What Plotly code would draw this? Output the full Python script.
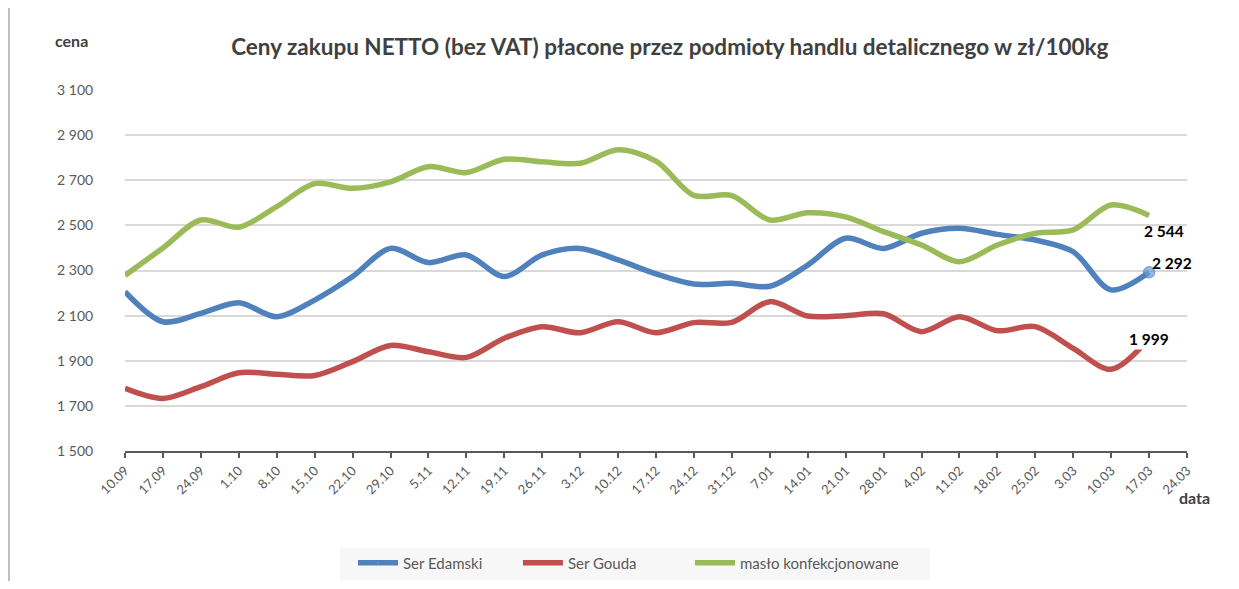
import plotly.graph_objects as go

categories = ["10.09", "17.09", "24.09", "1.10", "8.10", "15.10", "22.10", "29.10",
              "5.11", "12.11", "19.11", "26.11", "3.12", "10.12", "17.12", "24.12",
              "31.12", "7.01", "14.01", "21.01", "28.01", "4.02", "11.02", "18.02",
              "25.02", "3.03", "10.03", "17.03", "24.03"]

ser_edamski = [2206, 2073, 2110, 2157, 2095, 2169, 2273, 2398, 2335, 2369, 2273, 2369,
               2398, 2347, 2285, 2240, 2243, 2230, 2324, 2443, 2398, 2465, 2487, 2460,
               2435, 2383, 2214, 2292]
ser_gouda = [1778, 1733, 1785, 1847, 1840, 1835, 1896, 1968, 1940, 1915, 2000, 2051,
             2024, 2073, 2024, 2069, 2070, 2162, 2098, 2100, 2108, 2029, 2095, 2033,
             2051, 1955, 1862, 1999]
maslo = [2278, 2400, 2524, 2492, 2583, 2685, 2664, 2693, 2760, 2734, 2793, 2782,
         2775, 2835, 2785, 2633, 2632, 2524, 2556, 2538, 2472, 2413, 2339, 2413,
         2465, 2480, 2590, 2544]

y_ticks = [1500, 1700, 1900, 2100, 2300, 2500, 2700, 2900, 3100]
y_ticktext = ["1 500", "1 700", "1 900", "2 100", "2 300", "2 500", "2 700", "2 900", "3 100"]

FONT = "Lato, Carlito, Calibri, sans-serif"
GRAY = "#595959"

n = len(ser_edamski)
xs = categories[:n]
last = n - 1  # category index of the last data point

fig = go.Figure()
fig.add_trace(go.Scatter(
    x=xs, y=ser_edamski, name="Ser Edamski", mode="lines+markers", legend="legend",
    line=dict(color="#4F81BD", width=5.5, shape="spline", smoothing=0.9),
    marker=dict(size=[0] * (n - 1) + [11], color="#6E9BD6",
                line=dict(color="#4F81BD", width=[0] * (n - 1) + [1.5]))))
fig.add_trace(go.Scatter(
    x=xs, y=ser_gouda, name="Ser Gouda", mode="lines", legend="legend2",
    line=dict(color="#C0504D", width=5.5, shape="spline", smoothing=0.9)))
fig.add_trace(go.Scatter(
    x=xs, y=maslo, name="masło konfekcjonowane", mode="lines", legend="legend3",
    line=dict(color="#9BBB59", width=5.5, shape="spline", smoothing=0.9)))


def fmt(v):
    return f"{v:,}".replace(",", " ")


label_style = dict(font=dict(family=FONT, size=15.5, color="#000000"), showarrow=False)
fig.add_annotation(x=last, y=maslo[-1], text="<b>" + fmt(maslo[-1]) + "</b>",
                   xshift=15, yshift=-16, **label_style)
fig.add_annotation(x=last, y=ser_edamski[-1], text="<b>" + fmt(ser_edamski[-1]) + "</b>",
                   xshift=23, yshift=9, **label_style)
fig.add_annotation(x=last, y=ser_gouda[-1], text="<b>" + fmt(ser_gouda[-1]) + "</b>",
                   xshift=0, yshift=-1, bgcolor="white", **label_style)

fig.add_annotation(xref="paper", yref="paper", x=-0.0504, y=1.1385, text="<b>cena</b>",
                   showarrow=False, xanchor="center", yanchor="middle",
                   font=dict(family=FONT, size=16, color="#404040"))
fig.add_annotation(xref="paper", yref="paper", x=1.0066, y=-0.130, text="<b>data</b>",
                   showarrow=False, xanchor="center", yanchor="middle",
                   font=dict(family=FONT, size=16, color="#404040"))

# outer frame edge on the left and legend box
fig.add_shape(type="line", xref="paper", yref="paper", x0=-0.1092, x1=-0.1092, y0=1.23, y1=-0.36,
              line=dict(color="#bfbfbf", width=2))
fig.add_shape(type="rect", xref="paper", yref="paper", x0=0.2024, x1=0.758, y0=-0.357, y1=-0.269,
              line=dict(width=0), fillcolor="#f7f7f7", layer="below")

legend_common = dict(orientation="h", xanchor="left", yref="container", y=1 - 555 / 573,
                     yanchor="middle", bgcolor="rgba(0,0,0,0)",
                     font=dict(family=FONT, size=15, color=GRAY), itemwidth=40)

fig.update_layout(
    width=1223, height=573,
    margin=dict(l=117, r=44, t=82, b=130, autoexpand=False),
    paper_bgcolor="white", plot_bgcolor="rgba(0,0,0,0)",
    font=dict(family=FONT, color=GRAY),
    title=dict(text="<b>Ceny zakupu NETTO (bez VAT) płacone przez podmioty handlu detalicznego w zł/100kg</b>",
               x=0.513, xref="paper", xanchor="center", y=1 - 39 / 573, yanchor="middle",
               font=dict(family=FONT, size=22.5, color="#404040")),
    showlegend=True,
    legend=dict(x=0.2147, **legend_common),
    legend2=dict(x=0.370, **legend_common),
    legend3=dict(x=0.532, **legend_common),
)
fig.update_xaxes(
    type="category", categoryorder="array", categoryarray=categories,
    range=[0, len(categories) - 1], tickvals=categories, ticktext=categories,
    tickangle=-45, tickfont=dict(family=FONT, size=13, color=GRAY),
    showgrid=False, showline=True, linecolor="#595959", linewidth=2,
    ticks="outside", ticklen=5, tickwidth=2, tickcolor="#595959", zeroline=False,
    automargin=False,
)
fig.update_yaxes(
    range=[1500, 3100], tickvals=y_ticks, ticktext=y_ticktext,
    tickfont=dict(family=FONT, size=14, color=GRAY),
    showgrid=True, gridcolor="#d9d9d9", gridwidth=1.5, zeroline=False,
    showline=False, ticks="outside", ticklen=28, tickcolor="rgba(0,0,0,0)",
    automargin=False,
)

fig.write_html("out.html")
